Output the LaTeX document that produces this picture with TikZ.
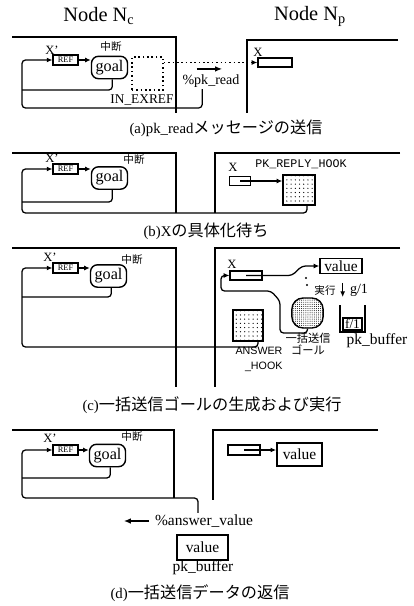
\documentclass[tikz,border=0pt]{standalone}
\usepackage{fontspec}
\setmainfont{Liberation Serif}
\setsansfont{Liberation Sans}
\setmonofont{Liberation Mono}
\newfontfamily\jpfont{Noto Sans CJK JP}
\usepackage{tikz}
\usetikzlibrary{arrows.meta,positioning,patterns.meta}

\begin{document}
\begin{tikzpicture}[
  x=0.025cm,y=-0.025cm,
  frame/.style={line width=1.4pt},
  wire/.style={line width=0.9pt,rounded corners=2.5pt},
  arr/.style={-{Latex[length=4pt,width=3.5pt]},line width=0.9pt},
  msg/.style={-{Latex[length=5pt,width=4pt]},line width=1.6pt},
  refbox/.style={rectangle,draw,line width=0.9pt,fill=white,
                 minimum width=0.62cm,minimum height=0.25cm,inner sep=0pt,
                 font=\fontsize{6}{6}\selectfont},
  goalbox/.style={rectangle,rounded corners=5pt,draw,line width=1pt,
                  minimum width=0.9cm,minimum height=0.56cm,inner sep=0pt,
                  font=\fontsize{11.5}{12}\selectfont},
  varbox/.style={rectangle,draw,line width=0.9pt,minimum height=0.23cm,inner sep=0pt},
  valbox/.style={rectangle,draw,line width=1pt,inner sep=0pt,
                 font=\fontsize{11}{12}\selectfont},
  hookbox/.style={rectangle,draw,line width=1pt,
                  pattern={Dots[distance=3pt,radius=0.45pt]}},
  lbl/.style={inner sep=1pt,font=\fontsize{9}{10}\selectfont},
  jlbl/.style={inner sep=0pt,font=\jpfont\fontsize{7.5}{9}\selectfont},
  ttl/.style={inner sep=0pt,font=\fontsize{14.5}{16}\selectfont},
  captxt/.style={inner sep=0pt,font=\fontsize{10.5}{11}\selectfont}
]
\useasboundingbox (0,0) rectangle (414,606);

\node[ttl] (nc) at (99,16) {Node N\textsubscript{c}};
\node[ttl] (np) at (310,16) {Node N\textsubscript{p}};

% (a)
\draw[frame] (12,37) -- (176,37) -- (176,113);
\draw[frame] (398,40) -- (247,40) -- (247,113);
\node[refbox] (refa) at (65.5,60) {REF};
\node[lbl] (xpa) at (52,50) {X'};
\node[goalbox] (goala) at (109.5,67.5) {goal};
\node[jlbl] (stopa) at (111,47) {中断};
\node[draw,dotted,line width=1.1pt,minimum width=0.78cm,minimum height=0.82cm] (exa) at (147.5,73.5) {};
\node[lbl,font=\fontsize{9.5}{10}\selectfont] (exlbla) at (142,100) {IN\_EXREF};
\node[lbl,font=\fontsize{10}{11}\selectfont] (pkread) at (211,81) {\%pk\_read};
\node[varbox,minimum width=0.85cm] (xa) at (275,62.5) {};
\node[lbl] (xlbla) at (258,52) {X};
\node[captxt] (capa) at (226,128) {(a)pk\_read{\jpfont\fontsize{11.5}{12}\selectfont メッセージの送信}};
\draw[arr] (refa.east) -- (refa.east -| goala.west);
\draw[wire] ([xshift=2pt]goala.south) |- (22,90);
\draw[wire,arr] ([xshift=-0.22cm]pkread.south) |- (22,108) |- (refa.west);
\draw[dotted,line width=1.1pt,-{Latex[length=4pt,width=3.5pt]}] (exa.east |- xa.west) -- (xa.west);
\draw[msg] ([xshift=-0.35cm,yshift=0.1cm]pkread.north) -- ([xshift=0.28cm,yshift=0.1cm]pkread.north);

% (b)
\draw[frame] (12,153) -- (176,153) -- (176,213);
\draw[frame] (400,153) -- (215,153) -- (215,213);
\node[refbox] (refb) at (65.5,169) {REF};
\node[lbl] (xpb) at (52,158) {X'};
\node[goalbox] (goalb) at (109.5,178) {goal};
\node[jlbl] (stopb) at (134,160) {中断};
\node[hookbox,minimum width=0.8cm,minimum height=0.75cm] (hookb) at (299,190) {};
\node[lbl,font=\ttfamily\fontsize{8.3}{9}\selectfont] (hooklblb) at (301,164) {PK\_REPLY\_HOOK};
\node[varbox,minimum width=0.52cm] (xb) at (240,181) {};
\node[lbl] (xlblb) at (233,167) {X};
\node[captxt] (capb) at (206,231) {(b)X{\jpfont\fontsize{11.5}{12}\selectfont の具体化待ち}};
\draw[arr] (refb.east) -- (refb.east -| goalb.west);
\draw[wire] ([xshift=2pt]goalb.south) |- (22,202);
\draw[wire,arr] ([xshift=0.2cm]hookb.south) |- (22,213) |- (refb.west);
\draw[arr] (xb.center) -- (xb.center -| hookb.west);

% (c)
\draw[frame] (12,248) -- (176,248) -- (176,387);
\draw[frame] (400,248) -- (215,248) -- (215,387);
\node[refbox] (refc) at (65.5,268) {REF};
\node[lbl] (xpc) at (50,257) {X'};
\node[goalbox] (goalc) at (108.5,276) {goal};
\node[jlbl] (stopc) at (132,260) {中断};
\node[hookbox,minimum width=0.75cm,minimum height=0.78cm] (ansc) at (248,325.5) {};
\node[lbl,font=\sffamily\fontsize{7.6}{10.5}\selectfont,align=right] (anslblc) at (259,359) {ANSWER\\\_HOOK};
\node[varbox,minimum width=0.8cm] (xc) at (246,275.5) {};
\node[lbl] (xlblc) at (232,264) {X};
\node[valbox,minimum width=1.05cm,minimum height=0.38cm] (valc) at (341,266) {value};
\node[goalbox,minimum width=0.78cm,minimum height=0.75cm,rounded corners=8pt,
      pattern={Dots[distance=1.5pt,radius=0.35pt]}] (bgoal) at (307.5,313) {};
\node[jlbl,font=\jpfont\fontsize{8}{8.5}\selectfont,align=center] (bglblc) at (308,344) {一括送信\\ゴール};
\node[jlbl] (runc) at (325,290) {実行};
\node[lbl,font=\fontsize{10}{11}\selectfont] (g1) at (359,290) {g/1};
\node[draw,line width=0.9pt,minimum width=0.48cm,minimum height=0.3cm,inner sep=0pt,
      font=\fontsize{9.5}{10}\selectfont] (f1) at (352.5,324) {f/1};
\node[lbl,font=\fontsize{11}{12}\selectfont] (bufc) at (377,341) {pk\_buffer};
\node[captxt] (capc) at (212,405) {(c){\jpfont\fontsize{11.5}{12}\selectfont 一括送信ゴールの生成および実行}};
\draw[arr] (refc.east) -- (refc.east -| goalc.west);
\draw[wire] ([xshift=2pt]goalc.south) |- (22,297);
\draw[wire,arr] ([xshift=0.25cm]ansc.south) |- (22,347) |- (refc.west);
\draw[wire,arr] (xc.center) -- (292,275.5) -- (302,266) -- (valc.west);
\draw[wire,arr] (bgoal.south) |- (280,333) -- (280,301) -- (271,291) -- (221,291) |- (xc.west);
\fill (306,278) circle (0.8pt) (307,285) circle (0.8pt);
\draw[arr] ([xshift=-4pt,yshift=5pt]g1.west) -- ([xshift=-4pt,yshift=-5pt]g1.west);
\draw[line width=0.9pt] (340,305) -- (340,332) -- (365,332) -- (365,305);

% (d)
\draw[frame] (12,430) -- (174,430) -- (174,498);
\draw[frame] (378,430) -- (213,430) -- (213,500);
\node[refbox] (refd) at (65.5,450) {REF};
\node[lbl] (xpd) at (50,438) {X'};
\node[goalbox] (goald) at (107.5,455.5) {goal};
\node[jlbl] (stopd) at (132,437) {中断};
\node[varbox,minimum width=0.8cm,minimum height=0.25cm] (xd) at (244,450) {};
\node[valbox,minimum width=1.13cm,minimum height=0.57cm] (vald) at (299.5,454.5) {value};
\node[lbl,font=\fontsize{11}{12}\selectfont] (ansv) at (204,521) {\%answer\_value};
\node[valbox,minimum width=1.27cm,minimum height=0.62cm] (bufv) at (202.5,547.5) {value};
\node[lbl,font=\fontsize{11}{12}\selectfont] (bufd) at (203,568) {pk\_buffer};
\node[captxt] (capd) at (200,593) {(d){\jpfont\fontsize{11.5}{12}\selectfont 一括送信データの返信}};
\draw[arr] (refd.east) -- (refd.east -| goald.west);
\draw[wire] ([xshift=2pt]goald.south) |- (22,478);
\draw[wire,arr] ([xshift=-0.15cm]ansv.north) |- (22,498) |- (refd.west);
\draw[arr] (xd.center) -- (xd.center -| vald.west);
\draw[msg] ([xshift=-3pt]ansv.west) -- ([xshift=-21pt]ansv.west);
\end{tikzpicture}
\end{document}
